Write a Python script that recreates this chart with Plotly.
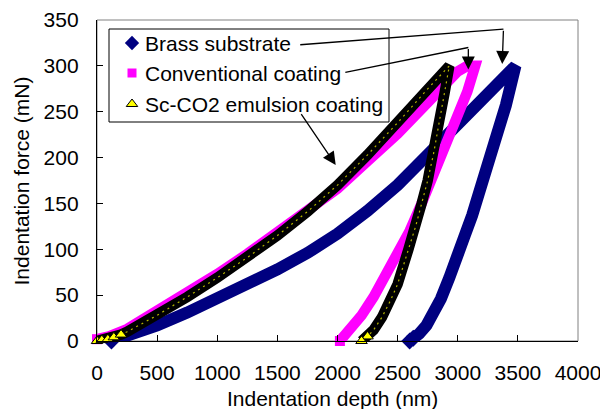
import plotly.graph_objects as go

# ---------------- data ----------------
brass_load_x = [120, 200, 300, 500, 750, 1000, 1250, 1500, 1750, 2000, 2250, 2500, 2750, 3000, 3250, 3480]
brass_load_y = [0, 3, 7, 17, 31, 46, 62, 78, 96, 117, 142, 170, 203, 237, 270, 300]
brass_unload_x = [3480, 3400, 3300, 3200, 3120, 3050, 3000, 2930, 2860, 2800, 2740, 2680, 2630, 2600]
brass_unload_y = [300, 257, 212, 170, 137, 112, 97, 69, 46, 30, 17, 8, 3, 0]

conv_load_x = [0, 50, 100, 250, 500, 750, 1000, 1250, 1500, 1750, 2000, 2250, 2500, 2750, 2900, 3000, 3080]
conv_load_y = [2, 3, 5, 13, 32, 52, 73, 95, 118, 142, 166, 196, 226, 260, 282, 294, 300]
conv_unload_x = [3145, 3080, 3000, 2900, 2800, 2700, 2600, 2500, 2400, 2300, 2200, 2100, 2050, 2020]
conv_unload_y = [300, 272, 245, 215, 182, 150, 120, 94, 70, 48, 28, 12, 5, 0]

sc_load_x = [0, 40, 90, 140, 200, 250, 500, 750, 1000, 1250, 1500, 1750, 2000, 2250, 2500, 2750, 2930]
sc_load_y = [0, 1, 2, 4, 7, 10, 28, 48, 69, 91, 115, 141, 170, 203, 238, 275, 300]
sc_unload_x = [2930, 2890, 2850, 2800, 2750, 2700, 2650, 2590, 2500, 2440, 2370, 2300, 2250, 2200]
sc_unload_y = [300, 270, 240, 205, 175, 150, 125, 100, 62, 44, 26, 12, 5, 0]

series_names = ["Brass substrate", "Conventional coating", "Sc-CO2 emulsion coating"]
x_ticks = [0, 500, 1000, 1500, 2000, 2500, 3000, 3500, 4000]
y_ticks = [0, 50, 100, 150, 200, 250, 300, 350]

FONT = "Liberation Sans, Arial, sans-serif"
NAVY = "#000080"
MAG = "#FF00FF"
YEL = "#FFFF00"

# plot-area pixel frame (used for the overlay axis that holds the legend keys)
PX_L, PX_R, PX_T, PX_B = 97, 578, 20, 341

fig = go.Figure()

def band(x, y, color, width):
    fig.add_trace(go.Scatter(x=x, y=y, mode="lines", line=dict(color=color, width=width),
                             showlegend=False, hoverinfo="skip", cliponaxis=False))

def ends(x, y, symbol, color, lcolor, lw, size):
    fig.add_trace(go.Scatter(x=x, y=y, mode="markers",
                             marker=dict(symbol=symbol, size=size, color=color,
                                         line=dict(color=lcolor, width=lw)),
                             showlegend=False, hoverinfo="skip", cliponaxis=False))

# Brass
band(brass_load_x + brass_unload_x, brass_load_y + brass_unload_y, NAVY, 12)
ends(brass_unload_x[-2:], brass_unload_y[-2:], "diamond", NAVY, NAVY, 0, 13)
ends(brass_load_x[:1], brass_load_y[:1], "diamond", NAVY, NAVY, 0, 13)
# Conventional
band(conv_load_x + conv_unload_x, conv_load_y + conv_unload_y, MAG, 10.5)
ends(conv_unload_x[-1:], conv_unload_y[-1:], "square", MAG, MAG, 0, 10)
ends(conv_load_x[:1], conv_load_y[:1], "square", MAG, MAG, 0, 10)
# Sc-CO2
sx = sc_load_x + sc_unload_x
sy = sc_load_y + sc_unload_y
band(sx, sy, "#000000", 10.5)
fig.add_trace(go.Scatter(x=sx, y=sy, mode="lines", line=dict(color=YEL, width=1.2, dash="2px,4px"),
                         opacity=0.7, showlegend=False, hoverinfo="skip", cliponaxis=False))
ends(sc_load_x[:5], sc_load_y[:5], "triangle-up", YEL, "#000000", 1, 10)
ends(sc_unload_x[-2:], sc_unload_y[-2:], "triangle-up", YEL, "#000000", 1, 10)

# ---------------- hand-built legend ----------------
leg_rows_px = [43, 73, 104]
leg_key_px = 132
leg_text_px = 143
fig.add_shape(type="rect", xref="paper", yref="paper",
              x0=(109 - PX_L) / (PX_R - PX_L), x1=(389 - PX_L) / (PX_R - PX_L),
              y0=(PX_B - 122) / (PX_B - PX_T), y1=(PX_B - 29) / (PX_B - PX_T),
              line=dict(color="black", width=1), fillcolor="white", layer="below")
key_styles = [dict(symbol="diamond", size=11, color=NAVY),
              dict(symbol="square", size=9, color=MAG),
              dict(symbol="triangle-up", size=10, color=YEL, line=dict(color="black", width=1))]
for row, name, mk in zip(leg_rows_px, series_names, key_styles):
    fig.add_trace(go.Scatter(x=[leg_key_px], y=[row], mode="markers", marker=mk, xaxis="x2", yaxis="y2",
                             showlegend=False, hoverinfo="skip", cliponaxis=False))
    fig.add_annotation(text=name, xref="paper", yref="paper",
                       x=(leg_text_px - PX_L) / (PX_R - PX_L), y=(PX_B - row) / (PX_B - PX_T),
                       xanchor="left", yanchor="middle", showarrow=False,
                       font=dict(family=FONT, size=21, color="black"))

# arrows (polyline leader + arrow)
def leader(pts):
    for (x0, y0), (x1, y1) in zip(pts[:-2], pts[1:-1]):
        fig.add_shape(type="line", xref="x", yref="y", x0=x0, y0=y0, x1=x1, y1=y1,
                      line=dict(color="black", width=1.3))
    (ax, ay), (x, y) = pts[-2], pts[-1]
    fig.add_annotation(x=x, y=y, ax=ax, ay=ay, xref="x", yref="y", axref="x", ayref="y",
                       text="", showarrow=True, arrowhead=2, arrowsize=2, arrowwidth=1.3,
                       arrowcolor="black", standoff=0, startstandoff=0)

leader([(1690, 323), (3380, 340), (3370, 302)])
leader([(2065, 293), (3088, 320), (3088, 296)])
leader([(1690, 249), (1985, 192)])

fig.add_shape(type="rect", xref="paper", yref="paper", x0=0, y0=0, x1=1, y1=1,
              line=dict(color="#808080", width=1), layer="below")

axis_common = dict(showgrid=False, zeroline=False, showline=True, linecolor="black", linewidth=1.3,
                   ticks="inside", ticklen=6, tickwidth=1.2, tickcolor="black", automargin=False,
                   tickfont=dict(family=FONT, size=21, color="black"), mirror=False)

fig.add_annotation(text="Indentation depth (nm)", xref="paper", yref="paper", x=0.49, y=-0.178,
                   xanchor="center", yanchor="middle", showarrow=False, font=dict(family=FONT, size=21))
fig.add_annotation(text="Indentation force (mN)", xref="paper", yref="paper", x=-0.156, y=0.5,
                   xanchor="center", yanchor="middle", textangle=-90, showarrow=False,
                   font=dict(family=FONT, size=21))

fig.update_layout(
    width=600, height=409,
    margin=dict(l=PX_L, r=600 - PX_R, t=PX_T, b=409 - PX_B),
    paper_bgcolor="white", plot_bgcolor="white",
    font=dict(family=FONT, color="black"),
    showlegend=False,
    xaxis=dict(range=[0, 4000], tickvals=x_ticks, tickformat="d", ticklabelstandoff=13,
               ticklabeloverflow="allow", **axis_common),
    yaxis=dict(range=[0, 350], tickvals=y_ticks, tickformat="d", ticklabelstandoff=13,
               ticklabeloverflow="allow", **axis_common),
    xaxis2=dict(overlaying="x", range=[PX_L, PX_R], visible=False, automargin=False),
    yaxis2=dict(overlaying="y", range=[PX_B, PX_T], visible=False, automargin=False),
)

fig.write_html("out.html")
